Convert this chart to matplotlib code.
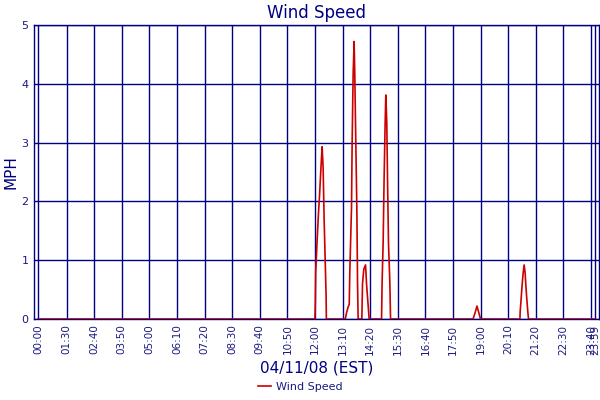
import matplotlib
matplotlib.use("Agg")
import matplotlib.pyplot as plt

# x positions are minutes along the chart axis (00:00 tick sits a bit in from the left edge)
tick_labels = ['00:00', '01:30', '02:40', '03:50', '05:00', '06:10', '07:20', '08:30',
               '09:40', '10:50', '12:00', '13:10', '14:20', '15:30', '16:40', '17:50',
               '19:00', '20:10', '21:20', '22:30', '23:40', '23:59']
tick_pos = [18, 90, 160, 230, 300, 370, 440, 510, 580, 650, 720, 790, 860, 930,
            1000, 1070, 1140, 1210, 1280, 1350, 1420, 1430]

# wind speed samples (mph), zero outside the gusts
t_min = [18, 720, 721, 722, 725.6, 729.1, 731.7, 734.2, 736.8, 738.3, 740.8, 743.4, 745.9, 748.4, 749,
         797, 800, 804, 807, 808.5, 812.8, 814.4, 816.9, 819.4, 821.2, 823.7, 826.3, 828.1, 829.6,
         839, 840.7, 844, 848.4, 850.9, 854.2, 857.5,
         889, 890.4, 893, 895.5, 898.1, 899.8, 902.3, 904.1, 906.6, 910, 911.8,
         1121, 1126, 1131, 1136, 1140,
         1240, 1240.5, 1243, 1245.5, 1248.1, 1250.6, 1253.2, 1254.9, 1257.4, 1260, 1261.8,
         1430]
mph = [0, 0, 0.27, 0.8, 1.34, 1.81, 2.1, 2.43, 2.76, 2.93, 2.57, 1.68, 1.04, 0.38, 0,
       0, 0.1, 0.2, 0.25, 0.8, 1.9, 3.0, 4.15, 4.72, 4.12, 3.0, 1.9, 0.6, 0,
       0, 0.6, 0.85, 0.92, 0.6, 0.3, 0,
       0, 0.63, 1.29, 2.4, 3.33, 3.81, 3.33, 2.4, 1.29, 0.63, 0,
       0, 0.1, 0.22, 0.1, 0,
       0, 0.12, 0.34, 0.58, 0.78, 0.92, 0.78, 0.58, 0.34, 0.12, 0,
       0]

navy = '#000080'
txt = '#1a1a80'

fig = plt.figure(figsize=(6, 4), dpi=100)
ax = fig.add_axes([0.057, 0.2025, 0.941, 0.735])

ax.plot(t_min, mph, color='#cc0000', lw=1.2, label='Wind Speed', zorder=3)

ax.set_xlim(8, 1440)
ax.set_ylim(0, 5)
ax.set_xticks(tick_pos)
ax.set_xticklabels(tick_labels, rotation=90, fontsize=7.5, color=txt)
ax.set_yticks([0, 1, 2, 3, 4, 5])
ax.set_yticklabels(['0', '1', '2', '3', '4', '5'], fontsize=8, color=txt)
ax.tick_params(length=0, pad=4)
ax.grid(True, color=navy, lw=1)
ax.set_axisbelow(True)
for s in ax.spines.values():
    s.set_color(navy)
    s.set_linewidth(1)

ax.set_title('Wind Speed', fontsize=12, color=navy, pad=5)
ax.set_ylabel('MPH', fontsize=11, color=navy, labelpad=2)
ax.set_xlabel('04/11/08 (EST)', fontsize=11, color=navy, labelpad=4)

fig.legend(loc='lower center', bbox_to_anchor=(0.5, -0.005), frameon=False,
           fontsize=8, labelcolor=txt, handlelength=1.2, handletextpad=0.4)

fig.savefig('out.png', dpi=100)
